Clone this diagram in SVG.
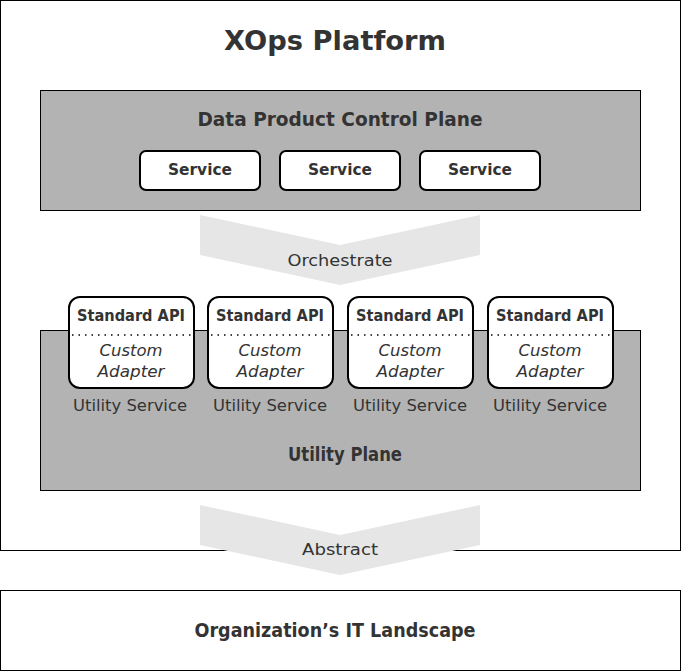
<svg xmlns="http://www.w3.org/2000/svg" width="681" height="671" viewBox="0 0 681 671">
<style>
text{font-family:"DejaVu Sans","Liberation Sans",sans-serif;fill:#333;text-anchor:middle}
.b{font-weight:bold}
.plane{fill:#b3b3b3;stroke:#000;stroke-width:1}
.frame{fill:#fff;stroke:#000;stroke-width:1}
.svc{fill:#fff;stroke:#000;stroke-width:2}
.arrow{fill:#e6e6e6;stroke:none}
.dots{stroke:#000;stroke-width:1.5;stroke-dasharray:1.5 5;fill:none}
.it{font-style:italic}
</style>
<rect width="681" height="671" fill="#fff"/>
<g id="platform">
<rect class="frame" x="0.5" y="0.5" width="680" height="550"/>
<text class="b" x="335" y="50" font-size="26" textLength="222" lengthAdjust="spacingAndGlyphs">XOps Platform</text>
</g>
<g id="control-plane">
<rect class="plane" x="40.5" y="90.5" width="600" height="120"/>
<text class="b" x="340" y="126" font-size="19" textLength="285" lengthAdjust="spacingAndGlyphs">Data Product Control Plane</text>
</g>
<g id="service-1">
<rect class="svc" x="140" y="151" width="120" height="39" rx="6"/>
<text class="b" x="200" y="175" font-size="15" textLength="64" lengthAdjust="spacingAndGlyphs">Service</text>
</g>
<g id="service-2">
<rect class="svc" x="280" y="151" width="120" height="39" rx="6"/>
<text class="b" x="340" y="175" font-size="15" textLength="64" lengthAdjust="spacingAndGlyphs">Service</text>
</g>
<g id="service-3">
<rect class="svc" x="420" y="151" width="120" height="39" rx="6"/>
<text class="b" x="480" y="175" font-size="15" textLength="64" lengthAdjust="spacingAndGlyphs">Service</text>
</g>
<g id="utility-plane">
<rect class="plane" x="40.5" y="330.5" width="600" height="160"/>
<text class="b" x="345" y="461" font-size="19" textLength="114" lengthAdjust="spacingAndGlyphs">Utility Plane</text>
</g>
<g id="utility-1">
<rect class="svc" x="69" y="297" width="125" height="91" rx="11"/>
<line class="dots" x1="72" y1="335" x2="192" y2="335"/>
<text class="b" x="131" y="321" font-size="16" textLength="108" lengthAdjust="spacingAndGlyphs">Standard API</text>
<text class="it" x="131" y="356" font-size="16" textLength="63" lengthAdjust="spacingAndGlyphs">Custom</text>
<text class="it" x="131" y="377" font-size="16" textLength="67" lengthAdjust="spacingAndGlyphs">Adapter</text>
<text x="130" y="411" font-size="16" textLength="114" lengthAdjust="spacingAndGlyphs">Utility Service</text>
</g>
<g id="utility-2">
<rect class="svc" x="208" y="297" width="125" height="91" rx="11"/>
<line class="dots" x1="211" y1="335" x2="331" y2="335"/>
<text class="b" x="270" y="321" font-size="16" textLength="108" lengthAdjust="spacingAndGlyphs">Standard API</text>
<text class="it" x="270" y="356" font-size="16" textLength="63" lengthAdjust="spacingAndGlyphs">Custom</text>
<text class="it" x="270" y="377" font-size="16" textLength="67" lengthAdjust="spacingAndGlyphs">Adapter</text>
<text x="270" y="411" font-size="16" textLength="114" lengthAdjust="spacingAndGlyphs">Utility Service</text>
</g>
<g id="utility-3">
<rect class="svc" x="348" y="297" width="125" height="91" rx="11"/>
<line class="dots" x1="351" y1="335" x2="471" y2="335"/>
<text class="b" x="410" y="321" font-size="16" textLength="108" lengthAdjust="spacingAndGlyphs">Standard API</text>
<text class="it" x="410" y="356" font-size="16" textLength="63" lengthAdjust="spacingAndGlyphs">Custom</text>
<text class="it" x="410" y="377" font-size="16" textLength="67" lengthAdjust="spacingAndGlyphs">Adapter</text>
<text x="410" y="411" font-size="16" textLength="114" lengthAdjust="spacingAndGlyphs">Utility Service</text>
</g>
<g id="utility-4">
<rect class="svc" x="488" y="297" width="125" height="91" rx="11"/>
<line class="dots" x1="491" y1="335" x2="611" y2="335"/>
<text class="b" x="550" y="321" font-size="16" textLength="108" lengthAdjust="spacingAndGlyphs">Standard API</text>
<text class="it" x="550" y="356" font-size="16" textLength="63" lengthAdjust="spacingAndGlyphs">Custom</text>
<text class="it" x="550" y="377" font-size="16" textLength="67" lengthAdjust="spacingAndGlyphs">Adapter</text>
<text x="550" y="411" font-size="16" textLength="114" lengthAdjust="spacingAndGlyphs">Utility Service</text>
</g>
<g id="landscape">
<rect class="frame" x="0.5" y="590.5" width="680" height="80"/>
<text class="b" x="335" y="637" font-size="19" textLength="281" lengthAdjust="spacingAndGlyphs">Organization’s IT Landscape</text>
</g>
<g id="connectors">
<g id="orchestrate">
<polygon class="arrow" points="200,215 340,245 480,215 480,255 340,285 200,255"/>
<text x="340" y="266" font-size="15" textLength="105" lengthAdjust="spacingAndGlyphs">Orchestrate</text>
</g>
<g id="abstract">
<polygon class="arrow" points="200,505 340,535 480,505 480,545 340,575 200,545"/>
<text x="340" y="555" font-size="15" textLength="76" lengthAdjust="spacingAndGlyphs">Abstract</text>
</g>
</g>
</svg>
